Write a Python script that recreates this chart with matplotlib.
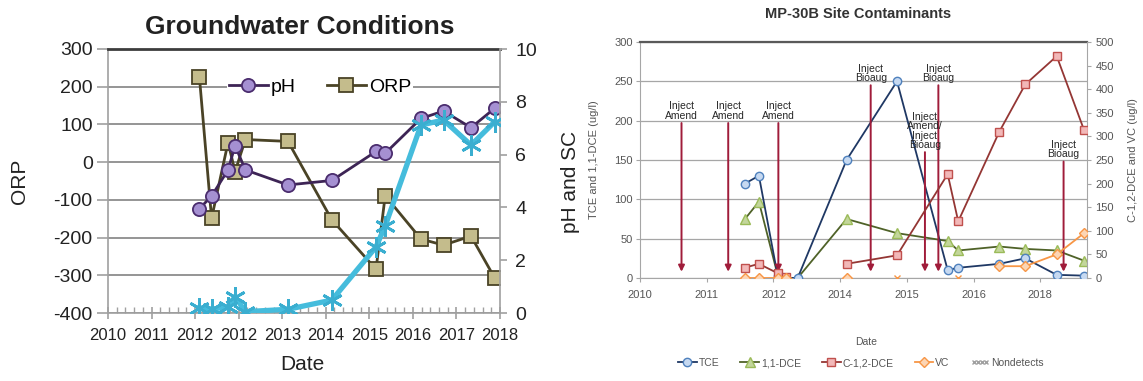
import matplotlib.pyplot as plt
import matplotlib.dates as mdates
from matplotlib.legend_handler import HandlerLine2D
from matplotlib.lines import Line2D
import numpy as np
import pandas as pd

plt.rcParams['font.family'] = ['Liberation Sans', 'DejaVu Sans']
plt.rcParams['axes.unicode_minus'] = False

# sampling dates (same events for both charts)
dates = pd.to_datetime([
    '2012-02-06', '2012-05-18', '2012-10-03', '2012-12-01', '2013-02-25',
    '2014-02-17', '2015-02-20', '2016-02-25', '2016-05-12', '2017-03-08',
    '2017-09-13', '2018-05-01', '2018-11-17'])

# groundwater conditions
ph = [3.95, 4.43, 5.42, 6.34, 5.42, 4.85, 5.02, 6.12, 6.05, 7.37, 7.65, 7.02, 7.76]
orp = [226, -149, 52, -25, 60, 55, -153, -284, -89, -204, -220, -196, -308]
sc = [0.18, 0.14, 0.24, 0.62, 0.05, 0.14, 0.49, 2.5, 3.3, 7.12, 7.31, 6.36, 7.25]
gw_ticklabels = ['2010', '2011', '2012', '2012', '2013', '2014', '2015', '2016', '2017', '2018']

# site contaminants (ug/l), NaN where not reported
tce = [120, 130, 2, 0, 0, 150, 250, 10, 13, 18, 25, 4, 3]
dce11 = [75, 97, 3, 0, 0, 75, 57, 47, 35, 40, 37, 35, 22]
cdce12 = [22, 30, 10, 3, np.nan, 30, 48, 220, 120, 310, 410, 470, 313]
vc = [0, 0, 0, 0, np.nan, 0, np.nan, np.nan, np.nan, 25, 25, 50, 95]
nd_dates = pd.to_datetime(['2015-02-20', '2016-05-12'])
nd_values = [0, 0]

inject_dates = pd.to_datetime(['2010-10-31', '2011-10-07', '2012-10-07', '2014-08-12',
                               '2015-12-19', '2015-09-12', '2018-06-20'])
inject_labels = ['Inject\nAmend', 'Inject\nAmend', 'Inject\nAmend', 'Inject\nBioaug',
                 'Inject\nBioaug', 'Inject\nAmend/\nInject\nBioaug', 'Inject\nBioaug']

W, H = 1143, 381
fig = plt.figure(figsize=(W / 100, H / 100), dpi=100)


def box(x0, y0, x1, y1):
    return [x0 / W, 1 - y1 / H, (x1 - x0) / W, (y1 - y0) / H]


# ---------------- Groundwater Conditions ----------------
ax1 = fig.add_axes(box(108, 49, 500, 313))
ax2 = ax1.twinx()

start = pd.Timestamp('2010-01-01')
gw_ticks = pd.date_range(start, periods=10, freq='365D')
ax1.set_xlim(gw_ticks[0], gw_ticks[-1])
ax1.set_xticks(gw_ticks)
ax1.set_xticklabels(gw_ticklabels)
ax1.xaxis.set_minor_locator(mdates.DayLocator(interval=73))

ax1.set_ylim(-400, 300)
ax1.set_yticks(range(-400, 301, 100))
ax2.set_ylim(0, 10)
ax2.set_yticks(range(0, 11, 2))

ax1.grid(axis='y', color='#8c8c8c', lw=1.3)
ax1.set_axisbelow(True)

gray = '#a0a0a0'
for s in ['left', 'bottom']:
    ax1.spines[s].set_color(gray)
    ax1.spines[s].set_linewidth(1.2)
ax1.spines['right'].set_visible(False)
ax1.spines['top'].set_color('#3c3c3c')
ax1.spines['top'].set_linewidth(2)
for s in ['left', 'bottom', 'top']:
    ax2.spines[s].set_visible(False)
ax2.spines['right'].set_color(gray)
ax2.spines['right'].set_linewidth(1.2)

ax1.tick_params(axis='y', direction='out', length=8, color=gray, width=1.2,
                labelsize=14, labelcolor='#222222', pad=3)
ax2.tick_params(axis='y', direction='out', length=5, color=gray, width=1.2,
                labelsize=14, labelcolor='#222222', pad=6)
ax1.tick_params(axis='x', which='major', direction='inout', length=9, color=gray,
                width=1.2, labelsize=12, labelcolor='#222222', pad=6)
ax1.tick_params(axis='x', which='minor', direction='in', length=4, color=gray, width=1)

orp_line, = ax1.plot(dates, orp, color='#4a4326', lw=2, marker='s', ms=9.5,
                     mfc='#c4bc8c', mec='#4a4326', mew=1.3, label='ORP')
ph_line, = ax2.plot(dates, ph, color='#3d2455', lw=2, marker='o', ms=9.5,
                    mfc='#a590d2', mec='#4b2d6e', mew=1.3, label='pH', zorder=2)
ax2.plot(dates, sc, color='#45bcdc', lw=3.8, marker=(6, 2, 0), ms=15, mew=2,
         mec='#3aaed0', zorder=3)

ax2.legend(handles=[ph_line, orp_line], loc='center', ncol=2,
           bbox_to_anchor=(320 / W, 1 - 87 / H), bbox_transform=fig.transFigure,
           fontsize=14, frameon=True, facecolor='white', edgecolor='none',
           framealpha=1, handlelength=2.0, handletextpad=0.15, columnspacing=1.6,
           borderpad=0.1)

fig.text(300 / W, 1 - 34 / H, 'Groundwater Conditions', fontsize=19,
         weight='bold', ha='center', va='baseline', color='#222222')
fig.text(20 / W, 1 - 181 / H, 'ORP', fontsize=15, rotation=90, ha='center',
         va='center', color='#222222')
fig.text(570 / W, 1 - 182 / H, 'pH and SC', fontsize=15, rotation=90,
         ha='center', va='center', color='#222222')
fig.text(302 / W, 1 - 364 / H, 'Date', fontsize=15, ha='center', va='center',
         color='#222222')

# ---------------- MP-30B Site Contaminants ----------------
ax3 = fig.add_axes(box(640, 42, 1087, 278))
ax4 = ax3.twinx()

site_ticks = pd.date_range(start, periods=7, freq='487D')
ax3.set_xlim(start, pd.Timestamp('2018-12-08'))
ax3.set_xticks(site_ticks)
ax3.xaxis.set_major_formatter(mdates.DateFormatter('%Y'))

ax3.set_ylim(0, 300)
ax3.set_yticks(range(0, 301, 50))
ax4.set_ylim(0, 500)
ax4.set_yticks(range(0, 501, 50))

ax3.grid(axis='y', color='#a6a6a6', lw=0.9)
ax3.set_axisbelow(True)

lgray = '#a6a6a6'
for s in ['left', 'bottom']:
    ax3.spines[s].set_color(lgray)
ax3.spines['right'].set_visible(False)
ax3.spines['top'].set_color('#5a5a5a')
ax3.spines['top'].set_linewidth(1.6)
for s in ['left', 'bottom', 'top']:
    ax4.spines[s].set_visible(False)
ax4.spines['right'].set_color(lgray)

txt = '#555555'
ax3.tick_params(axis='y', length=3, color=lgray, labelsize=8, labelcolor=txt, pad=2)
ax4.tick_params(axis='y', length=3, color=lgray, labelsize=8, labelcolor=txt, pad=3)
ax3.tick_params(axis='x', length=3, color=lgray, labelsize=8, labelcolor=txt, pad=6)

h_tce, = ax3.plot(dates, tce, color='#1f3864', lw=1.3, marker='o', ms=6,
                  mfc='#c6d9f1', mec='#4f81bd', mew=1, label='TCE', zorder=4)
h_dce, = ax3.plot(dates, dce11, color='#4f6228', lw=1.3, marker='^', ms=6.5,
                  mfc='#c3d69b', mec='#9bbb59', mew=1, label='1,1-DCE', zorder=3)
h_cdce, = ax4.plot(dates, cdce12, color='#943634', lw=1.3, marker='s', ms=6,
                   mfc='#f2b8b8', mec='#c0504d', mew=1, label='C-1,2-DCE', zorder=3)
h_vc, = ax4.plot(dates, vc, color='#f79646', lw=1.3, marker='D', ms=5.5,
                 mfc='#fcd5b4', mec='#f79646', mew=1, label='VC', zorder=3)
ax4.plot(nd_dates, nd_values, ls='none', marker='x', ms=4, color='#f79646', mew=1)
h_nd = Line2D([], [], ls='none', marker='x', ms=3.5, color='#a0a0a0', mew=1,
              label='Nondetects')

# injection events
tops = [197, 197, 197, 245, 245, 160, 148]
arrow_red = '#a01c3a'
for d, lab, top in zip(inject_dates, inject_labels, tops):
    ax3.annotate('', xy=(d, 8), xytext=(d, top),
                 arrowprops=dict(arrowstyle='-|>', color=arrow_red, lw=1.4,
                                 mutation_scale=9, shrinkA=0, shrinkB=0), zorder=5)
    ax3.text(d, top + 3, lab, fontsize=7.5, ha='center', va='bottom',
             linespacing=0.9, color='#262626', zorder=6)

fig.legend(handles=[h_tce, h_dce, h_cdce, h_vc, h_nd], loc='center', ncol=5,
           bbox_to_anchor=(861 / W, 1 - 363 / H), frameon=False, fontsize=7.5,
           labelcolor=txt, handlelength=1.8, handletextpad=0.2, columnspacing=2.0,
           handler_map={h_nd: HandlerLine2D(numpoints=4)})

fig.text(858 / W, 1 - 14 / H, 'MP-30B Site Contaminants', fontsize=10.5,
         weight='bold', ha='center', va='center', color='#333333')
fig.text(594 / W, 1 - 160 / H, 'TCE and 1,1-DCE (ug/l)', fontsize=8, rotation=90,
         ha='center', va='center', color=txt)
fig.text(1133 / W, 1 - 160 / H, 'C-1,2-DCE and VC (ug/l)', fontsize=8, rotation=90,
         ha='center', va='center', color=txt)
fig.text(866 / W, 1 - 342 / H, 'Date', fontsize=7.5, ha='center', va='center', color=txt)

fig.savefig('out.png', dpi=100, facecolor='white')
